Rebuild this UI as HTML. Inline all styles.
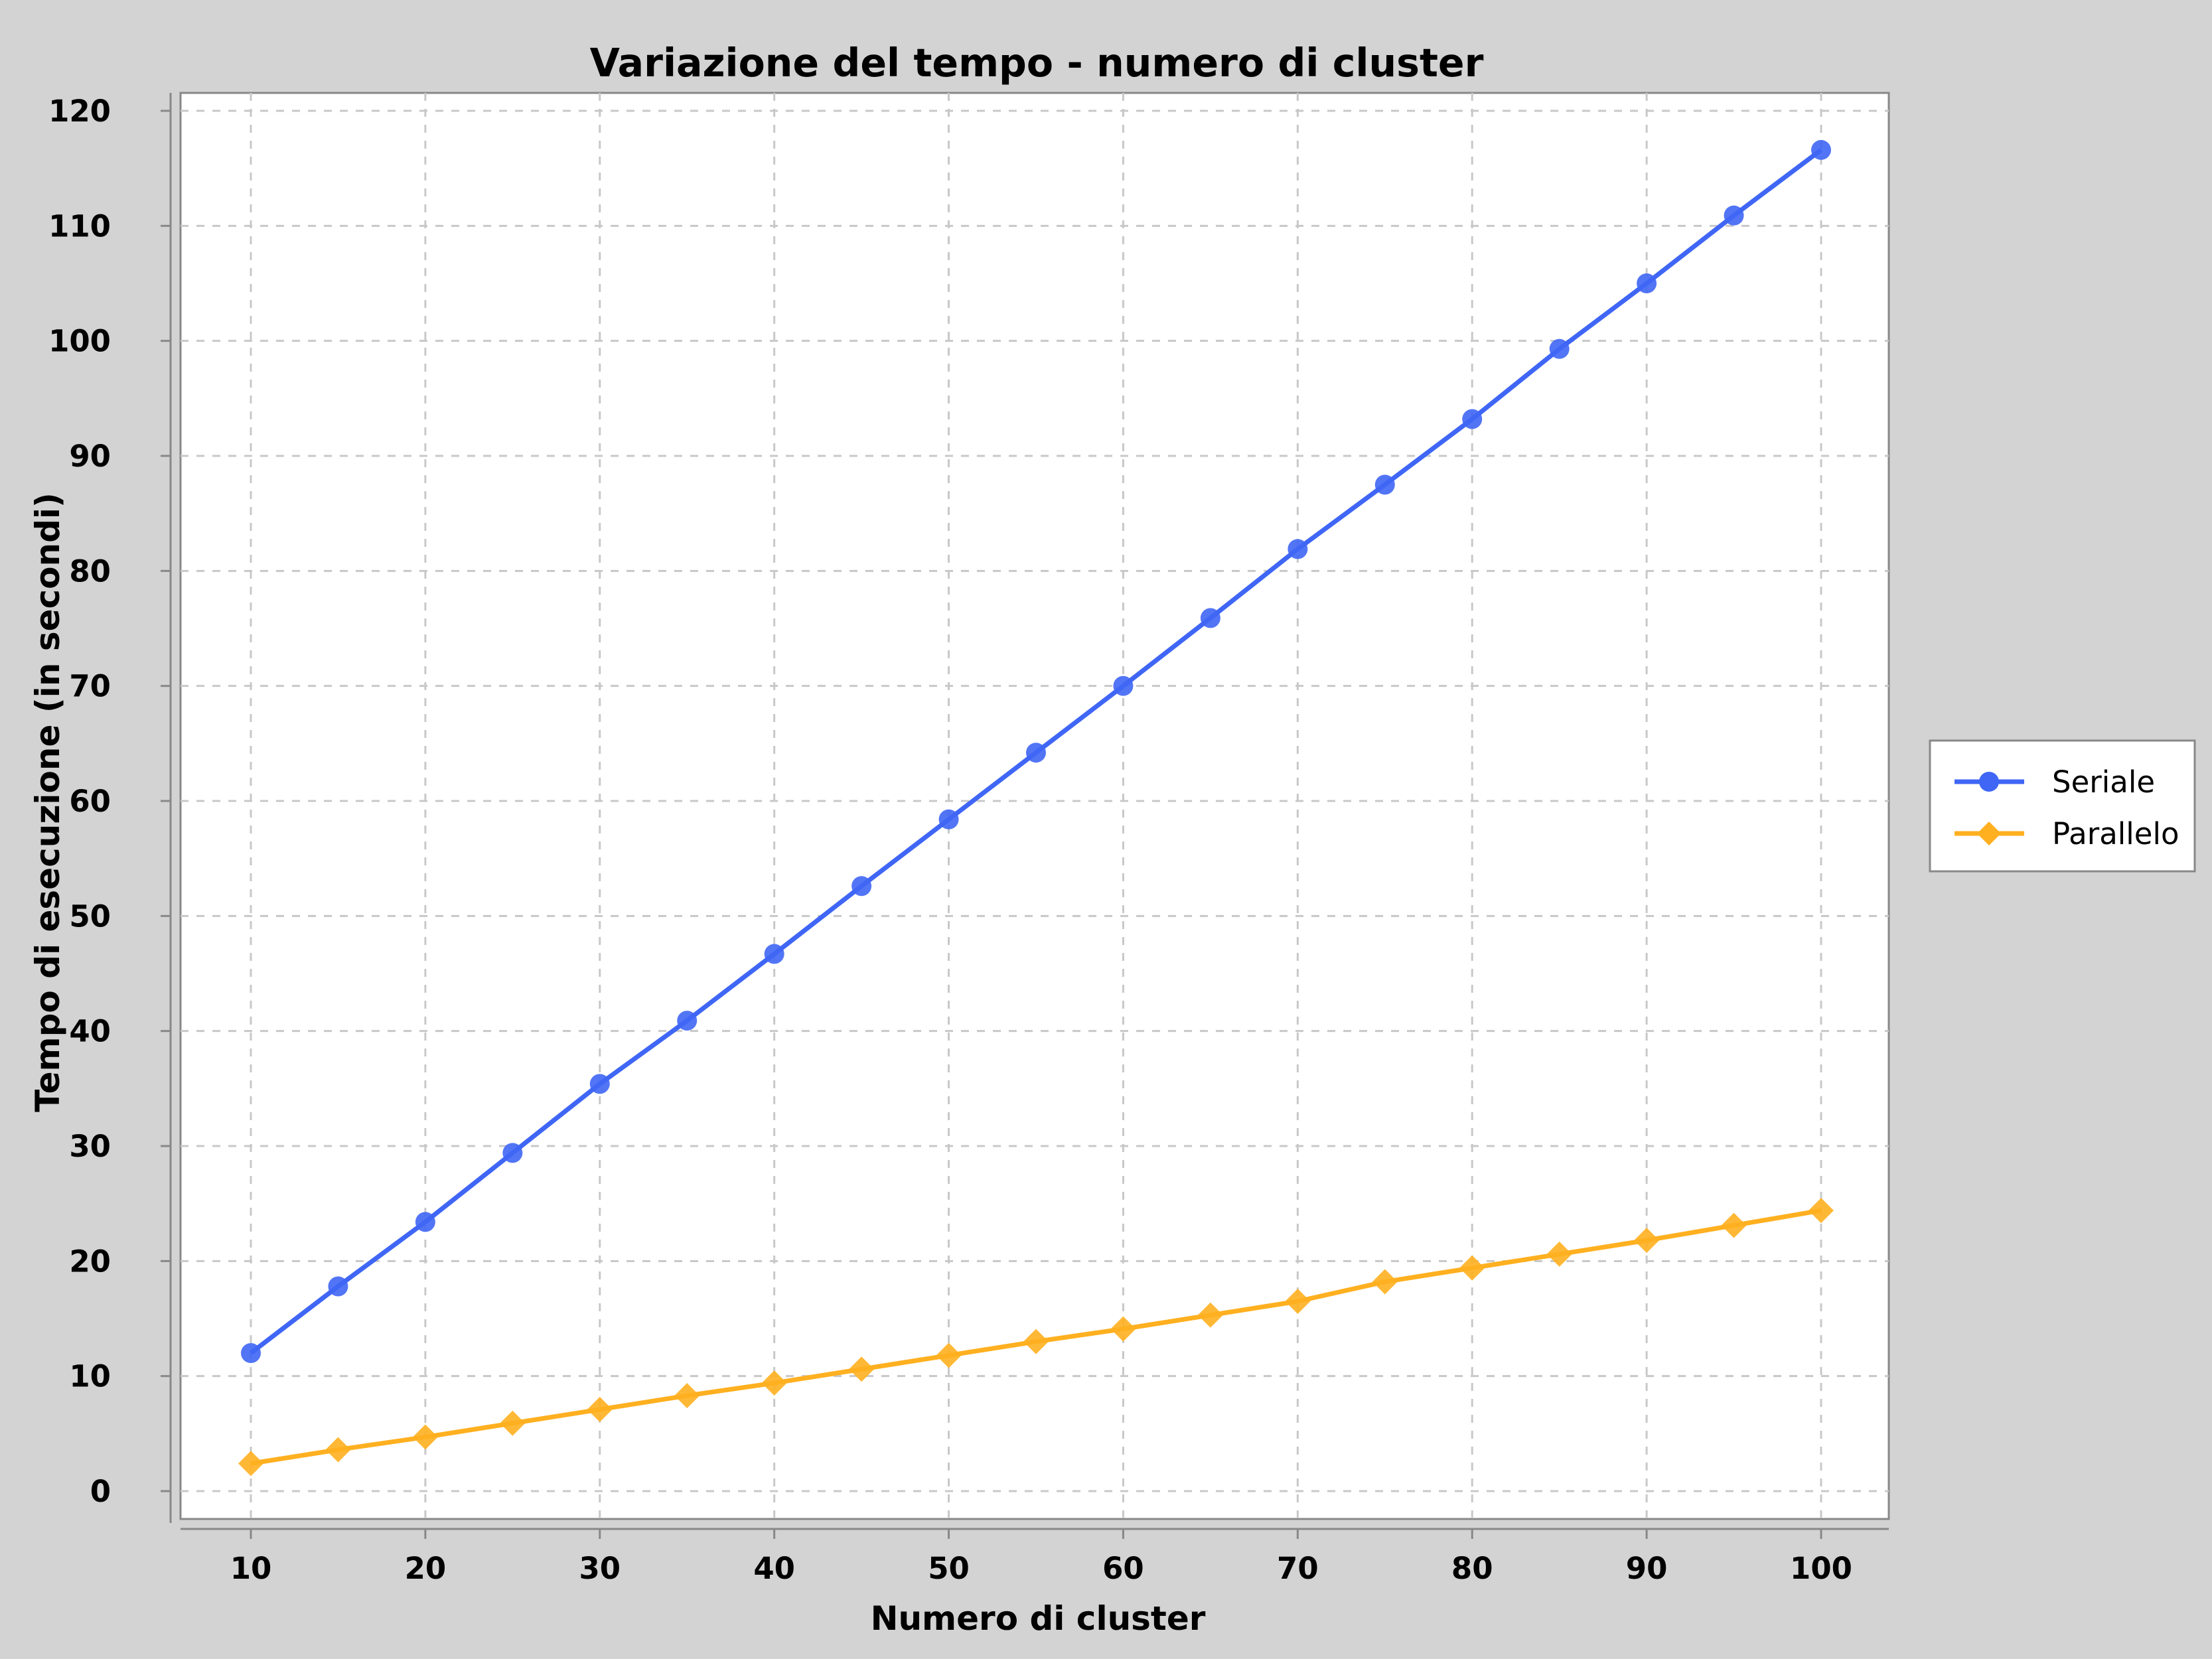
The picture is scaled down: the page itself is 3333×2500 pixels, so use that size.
<!DOCTYPE html>
<html><head><meta charset="utf-8"><style>
html,body{margin:0;padding:0;background:#d3d3d3;}
svg{display:block;font-family:"DejaVu Sans","Liberation Sans",sans-serif;}
</style></head><body>
<svg id="chart" width="3333" height="2500" viewBox="0 0 3333 2500" xmlns="http://www.w3.org/2000/svg">
<rect x="0" y="0" width="3333" height="2500" fill="#d3d3d3"/>
<rect x="272" y="140" width="2574" height="2149" fill="#ffffff" stroke="#888" stroke-width="3"/>
<g id="grid"></g>
<line x1="257" y1="140" x2="257" y2="2295" stroke="#888" stroke-width="3"/>
<line x1="272" y1="2304" x2="2846" y2="2304" stroke="#888" stroke-width="3"/>
<g id="yticks"></g>
<g id="xticks"></g>
<g id="series"></g>
<text x="1562" y="115" text-anchor="middle" font-size="58.5" font-weight="bold" fill="#000">Variazione del tempo - numero di cluster</text>
<text x="1564" y="2456" text-anchor="middle" font-size="50" font-weight="bold" fill="#000">Numero di cluster</text>
<text transform="translate(89,1209) rotate(-90)" text-anchor="middle" font-size="50" font-weight="bold" fill="#000">Tempo di esecuzione (in secondi)</text>
<g>
<rect x="2908" y="1116" width="399" height="197" fill="#fff" stroke="#888" stroke-width="3"/>
<g>
<line x1="2945" y1="1178" x2="3050" y2="1178" stroke="#3f66f5" stroke-width="7"/>
<circle cx="2997" cy="1178" r="15" fill="#3f66f5"/>
<text x="3092" y="1194" font-size="45" fill="#000">Seriale</text>
</g>
<g>
<line x1="2945" y1="1256" x2="3050" y2="1256" stroke="#ffb020" stroke-width="7"/>
<path d="M2997 1238 L3015 1256 L2997 1274 L2979 1256 Z" fill="#ffb020"/>
<text x="3092" y="1272" font-size="45" fill="#000">Parallelo</text>
</g>
</g>
</svg>
<script>
const categories=[10,15,20,25,30,35,40,45,50,55,60,65,70,75,80,85,90,95,100];
const serialeValues=[12,17.8,23.4,29.4,35.4,40.9,46.7,52.6,58.4,64.2,70.0,75.9,81.9,87.5,93.2,99.3,105.0,110.9,116.6];
const paralleloValues=[2.4,3.6,4.7,5.9,7.1,8.3,9.4,10.6,11.8,13.0,14.1,15.3,16.5,18.2,19.4,20.6,21.8,23.1,24.4];
const yTicks=[0,10,20,30,40,50,60,70,80,90,100,110,120];
const xTicks=[10,20,30,40,50,60,70,80,90,100];
const NS="http://www.w3.org/2000/svg";
function xs(v){return 378+(v-10)*(2744-378)/90;}
function ys(v){return 2247-v*(2247-167)/120;}
function mk(tag,attrs,parent){const e=document.createElementNS(NS,tag);for(const k in attrs)e.setAttribute(k,attrs[k]);parent.appendChild(e);return e;}
const grid=document.getElementById('grid'),yt=document.getElementById('yticks'),xt=document.getElementById('xticks'),ser=document.getElementById('series');
yTicks.forEach(v=>{
  const g=mk('line',{x1:272,x2:2846,y1:ys(v),y2:ys(v),stroke:'#c8c8c8','stroke-width':3,'stroke-dasharray':'12,12'},grid);
  
  
  const t=mk('line',{x1:242,x2:257,y1:ys(v),y2:ys(v),stroke:'#888','stroke-width':3},yt);
  
  
  const l=mk('text',{x:167,y:ys(v)+16,'text-anchor':'end','font-size':45,'font-weight':'bold'},yt);
  l.textContent=v;
  
  
});
xTicks.forEach(v=>{
  const g=mk('line',{x1:xs(v),x2:xs(v),y1:140,y2:2289,stroke:'#c8c8c8','stroke-width':3,'stroke-dasharray':'12,12'},grid);
  
  
  const t=mk('line',{x1:xs(v),x2:xs(v),y1:2304,y2:2319,stroke:'#888','stroke-width':3},xt);
  
  
  const l=mk('text',{x:xs(v),y:2379,'text-anchor':'middle','font-size':45,'font-weight':'bold'},xt);
  l.textContent=v;
  
  
});
function drawSeries(vals,color,shape,name){
  const pts=vals.map((v,i)=>xs(categories[i])+','+ys(v)).join(' ');
  const pl=mk('polyline',{points:pts,fill:'none',stroke:color,'stroke-width':7,'stroke-linejoin':'round'},ser);
  
  
  vals.forEach((v,i)=>{
    const x=xs(categories[i]),y=ys(v);
    let m;
    if(shape==='circle') m=mk('circle',{cx:x,cy:y,r:15,fill:color,'fill-opacity':0.9},ser);
    else m=mk('path',{d:`M${x} ${y-19} L${x+19} ${y} L${x} ${y+19} L${x-19} ${y} Z`,fill:color,'fill-opacity':0.9},ser);
    
    
  });
}
drawSeries(serialeValues,'#3f66f5','circle','seriale');
drawSeries(paralleloValues,'#ffb020','diamond','parallelo');
</script>
</body></html>
